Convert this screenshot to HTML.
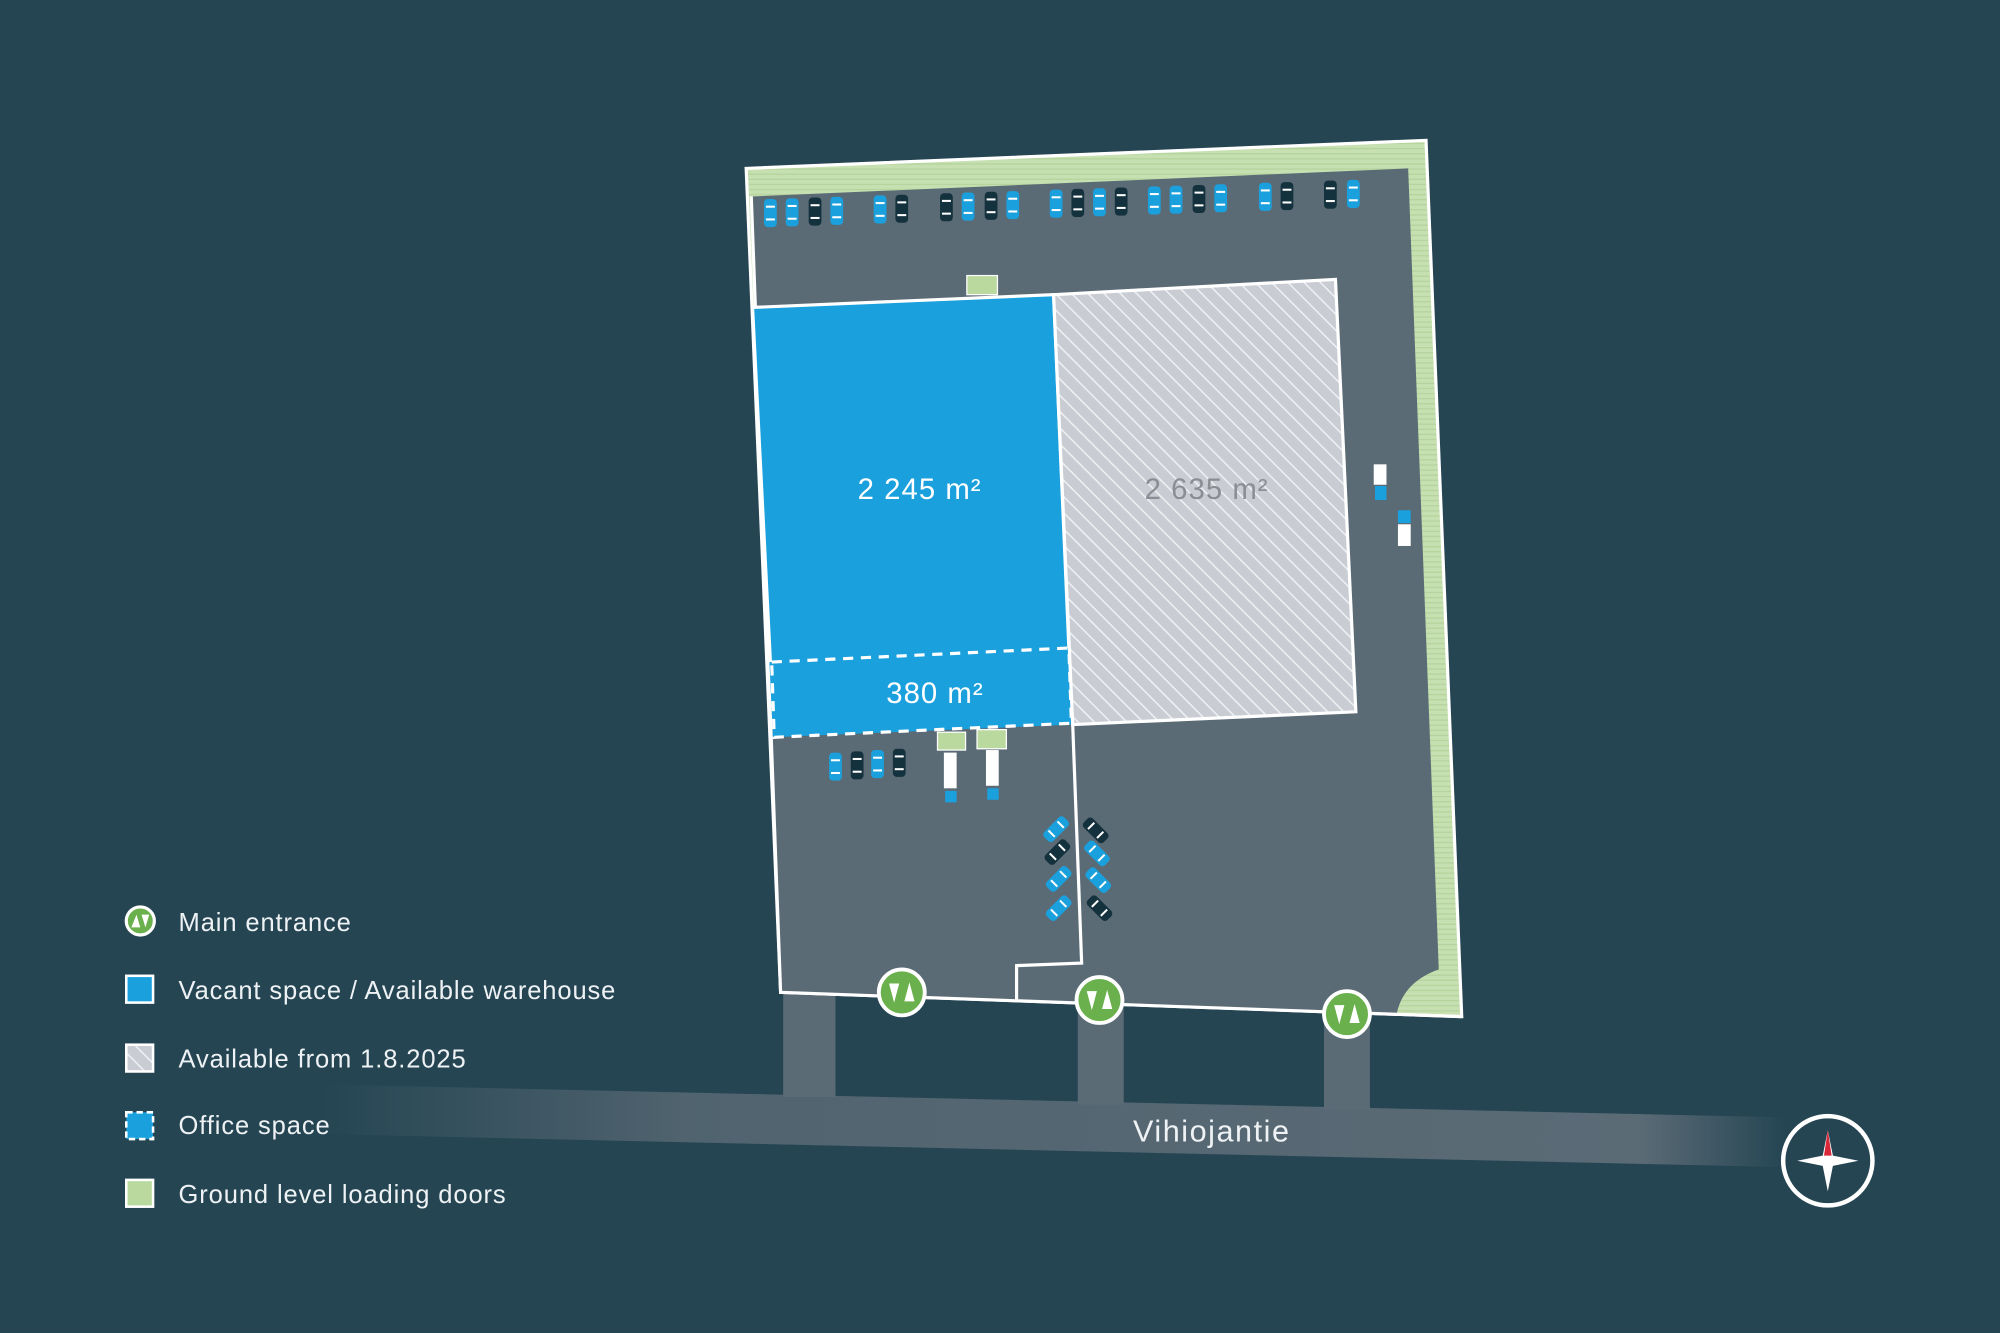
<!DOCTYPE html>
<html><head><meta charset="utf-8"><style>
html,body{margin:0;padding:0;background:#254553;}
svg{display:block;}
text{font-family:"Liberation Sans",sans-serif;}
</style></head><body>
<svg width="2000" height="1333" viewBox="0 0 1568 1045" xmlns="http://www.w3.org/2000/svg">
<defs>
<pattern id="h" width="9" height="9" patternUnits="userSpaceOnUse" patternTransform="rotate(45)">
<rect width="9" height="9" fill="#c9cdd3"/><rect x="0" y="0" width="9" height="1.2" fill="#eef0f2"/>
</pattern>
<pattern id="g" width="4" height="4" patternUnits="userSpaceOnUse">
<rect width="4" height="4" fill="#c7e0b2"/><rect width="4" height="1" fill="#b5d39c"/>
</pattern>
<linearGradient id="rd" x1="0" x2="1" y1="0" y2="0">
<stop offset="0" stop-color="#5b6b76" stop-opacity="0"/>
<stop offset="0.25" stop-color="#5b6b76" stop-opacity="0.8"/>
<stop offset="0.9" stop-color="#5b6b76" stop-opacity="1"/>
<stop offset="1" stop-color="#5b6b76" stop-opacity="0"/>
</linearGradient>
</defs>
<rect width="1568" height="1045" fill="#254553"/>
<polygon points="250,850 1400,876 1400,915 250,889" fill="url(#rd)"/>
<rect x="614" y="776" width="41" height="84" fill="#5b6b76"/>
<rect x="845" y="784" width="36" height="82" fill="#5b6b76"/>
<rect x="1038" y="792" width="36" height="78" fill="#5b6b76"/>
<text x="950" y="895" font-size="24" letter-spacing="1.2" fill="#eef2f4" text-anchor="middle">Vihiojantie</text>
<polygon points="585,132 1118,110 1146,797 612,778" fill="url(#g)" stroke="#ffffff" stroke-width="2.5"/>
<path d="M589,154 L1104,132 L1128,760 Q1100,770 1095,795 L612,778 Z" fill="#5b6b76"/>
<polyline points="589,154 612,778 1146,797" fill="none" stroke="#fff" stroke-width="2.5"/>
<polyline points="841,568 848,755 797,757 797,785" fill="none" stroke="#fff" stroke-width="2.5"/>
<polygon points="590,241 826,231 841,568 606,578" fill="#1aa0dc"/>
<polyline points="604,519 590,241 826,231 838,508" fill="none" stroke="#fff" stroke-width="2.5"/>
<polygon points="826,231 1047,219 1063,558 841,568" fill="url(#h)" stroke="#fff" stroke-width="2.5"/>
<polygon points="605,519 838,508 840,567 607,578" fill="none" stroke="#fff" stroke-width="2.5" stroke-dasharray="8,6"/>
<text x="721" y="391" font-size="23" letter-spacing="0.8" fill="#fff" text-anchor="middle">2 245 m²</text>
<text x="946" y="391" font-size="23" letter-spacing="0.8" fill="#8a8e93" text-anchor="middle">2 635 m²</text>
<text x="733" y="551" font-size="23" letter-spacing="0.8" fill="#fff" text-anchor="middle">380 m²</text>
<rect x="758" y="216" width="24" height="15" fill="#b9d99e" stroke="#fff" stroke-width="1"/>
<rect x="735" y="574" width="22" height="14" fill="#b9d99e" stroke="#fff" stroke-width="1"/>
<rect x="766" y="572" width="23" height="15" fill="#b9d99e" stroke="#fff" stroke-width="1"/>
<rect x="740" y="590" width="10" height="28" fill="#fff"/><rect x="741" y="620" width="9" height="9" fill="#1aa0dc"/>
<rect x="773" y="588" width="10" height="28" fill="#fff"/><rect x="774" y="618" width="9" height="9" fill="#1aa0dc"/>
<rect x="1077" y="364" width="10" height="16" fill="#fff"/><rect x="1078" y="381" width="9" height="11" fill="#1aa0dc"/>
<rect x="1096" y="400" width="10" height="10" fill="#1aa0dc"/><rect x="1096" y="411" width="10" height="17" fill="#fff"/>
<g fill="#6ab04c" stroke="#fff" stroke-width="3">
<circle cx="707" cy="778" r="18"/><circle cx="862" cy="784" r="18"/><circle cx="1056" cy="795" r="18"/>
</g>
<g fill="#fff">
<path d="M697,771 L705,771 L701,786Z M709,785 L717,785 L713,770Z"/>
<path d="M852,777 L860,777 L856,792Z M864,791 L872,791 L868,776Z"/>
<path d="M1046,788 L1054,788 L1050,803Z M1058,802 L1066,802 L1062,787Z"/>
</g>
<circle cx="1433" cy="910" r="35" fill="none" stroke="#fff" stroke-width="3.5"/>
<path d="M1433,886 L1437,906 L1457,910 L1437,914 L1433,934 L1429,914 L1409,910 L1429,906Z" fill="#fff"/>
<path d="M1433,886 L1436,906 L1430,906Z" fill="#d9283a"/>
<circle cx="110" cy="722" r="11" fill="#6ab04c" stroke="#fff" stroke-width="2.5"/>
<path d="M103,727 L107,717 L110,727Z M111,717 L117,717 L114,727Z" fill="#fff"/>
<rect x="99" y="765" width="21" height="21" fill="#1aa0dc" stroke="#fff" stroke-width="2"/>
<rect x="99" y="819" width="21" height="21" fill="url(#h)" stroke="#fff" stroke-width="2"/>
<rect x="99" y="872" width="21" height="21" fill="#1aa0dc" stroke="#fff" stroke-width="2" stroke-dasharray="5,3"/>
<rect x="99" y="925" width="21" height="21" fill="#b9d99e" stroke="#fff" stroke-width="2"/>
<g font-size="20" letter-spacing="0.7" fill="#eef2f4">
<text x="140" y="730">Main entrance</text>
<text x="140" y="783">Vacant space / Available warehouse</text>
<text x="140" y="837">Available from 1.8.2025</text>
<text x="140" y="889">Office space</text>
<text x="140" y="943">Ground level loading doors</text>
</g>
<script>
(function(){
var ns="http://www.w3.org/2000/svg";
var svg=document.querySelector('svg');
function car(x,y,dark,rot){
 var g=document.createElementNS(ns,'g');
 g.setAttribute('transform','translate('+x+','+y+') rotate('+(rot||0)+')');
 var r=document.createElementNS(ns,'rect');
 r.setAttribute('x',-5);r.setAttribute('y',-11);r.setAttribute('width',10);r.setAttribute('height',22);r.setAttribute('rx',3);
 r.setAttribute('fill',dark?'#14323d':'#1aa0dc');g.appendChild(r);
 [-5,5].forEach(function(dy){var l=document.createElementNS(ns,'rect');l.setAttribute('x',-3.5);l.setAttribute('y',dy-0.8);l.setAttribute('width',7);l.setAttribute('height',1.6);l.setAttribute('fill','#fff');g.appendChild(l);});
 svg.appendChild(g);
}
var top=[[604,0],[621,0],[639,1],[656,0],[690,0],[707,1],[742,1],[759,0],[777,1],[794,0],[828,0],[845,1],[862,0],[879,1],[905,0],[922,0],[940,1],[957,0],[992,0],[1009,1],[1043,1],[1061,0]];
top.forEach(function(c){var y=167-(c[0]-604)*15/457;car(c[0],y,c[1],0);});
[[655,601,0],[672,600,1],[688,599,0],[705,598,1]].forEach(function(c){car(c[0],c[1],c[2],0);});
[[828,650,0],[829,668,1],[830,689,0],[830,712,0]].forEach(function(c){car(c[0],c[1],c[2],45);});
[[859,651,1],[860,669,0],[861,690,0],[862,712,1]].forEach(function(c){car(c[0],c[1],c[2],-45);});
})();
</script>
</svg>
</body></html>
